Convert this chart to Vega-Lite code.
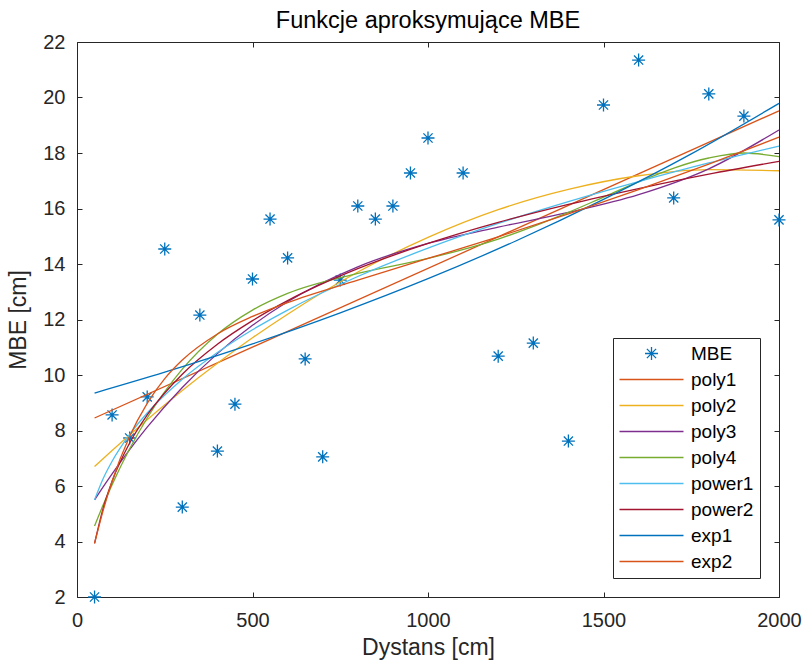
{
  "$schema": "https://vega.github.io/schema/vega-lite/v6.json",
  "width": 702,
  "height": 555,
  "autosize": {"type": "none"},
  "padding": {"left": 77, "top": 42, "right": 25, "bottom": 66},
  "background": "white",
  "config": {
    "font": "Liberation Sans",
    "view": {"stroke": null},
    "axis": {"grid": false, "domainColor": "#262626", "domainWidth": 1, "tickColor": "#262626", "tickWidth": 1, "labelColor": "#262626", "titleColor": "#262626", "labelFontSize": 20, "titleFontSize": 23, "titleFontWeight": "normal", "labelFont": "Liberation Sans", "titleFont": "Liberation Sans"},
    "legend": {"orient": "bottom-right", "offset": 19, "fillColor": "white", "strokeColor": "#262626", "padding": 6, "labelFontSize": 19, "labelColor": "#000000", "labelFont": "Liberation Sans", "symbolSize": 100, "symbolStrokeWidth": 1.3, "symbolOffset": 23, "labelOffset": 30, "rowPadding": 6}
  },
  "title": {"text": "Funkcje aproksymujące MBE", "fontSize": 23.5, "fontWeight": "normal", "color": "#000000", "offset": 0, "font": "Liberation Sans"},
  "datasets": {
    "pts": [
      {"series": "MBE", "x": 50, "y": 2.0},
      {"series": "MBE", "x": 100, "y": 8.56},
      {"series": "MBE", "x": 150, "y": 7.73},
      {"series": "MBE", "x": 200, "y": 9.21},
      {"series": "MBE", "x": 250, "y": 14.54},
      {"series": "MBE", "x": 300, "y": 5.24},
      {"series": "MBE", "x": 350, "y": 12.16},
      {"series": "MBE", "x": 400, "y": 7.26},
      {"series": "MBE", "x": 450, "y": 8.95},
      {"series": "MBE", "x": 500, "y": 13.46},
      {"series": "MBE", "x": 550, "y": 15.62},
      {"series": "MBE", "x": 600, "y": 14.22},
      {"series": "MBE", "x": 650, "y": 10.58},
      {"series": "MBE", "x": 700, "y": 7.05},
      {"series": "MBE", "x": 750, "y": 13.42},
      {"series": "MBE", "x": 800, "y": 16.09},
      {"series": "MBE", "x": 850, "y": 15.62},
      {"series": "MBE", "x": 900, "y": 16.09},
      {"series": "MBE", "x": 950, "y": 17.28},
      {"series": "MBE", "x": 1000, "y": 18.54},
      {"series": "MBE", "x": 1100, "y": 17.28},
      {"series": "MBE", "x": 1200, "y": 10.68},
      {"series": "MBE", "x": 1300, "y": 11.15},
      {"series": "MBE", "x": 1400, "y": 7.62},
      {"series": "MBE", "x": 1500, "y": 19.73},
      {"series": "MBE", "x": 1600, "y": 21.35},
      {"series": "MBE", "x": 1700, "y": 16.38},
      {"series": "MBE", "x": 1800, "y": 20.13},
      {"series": "MBE", "x": 1900, "y": 19.33},
      {"series": "MBE", "x": 2000, "y": 15.59}
    ],
    "curves": [
      {"series": "poly1", "x": 50, "y": 8.45},
      {"series": "poly1", "x": 2000, "y": 19.52},
      {"series": "poly2", "x": 50, "y": 6.70},
      {"series": "poly2", "x": 100, "y": 7.28},
      {"series": "poly2", "x": 200, "y": 8.39},
      {"series": "poly2", "x": 300, "y": 9.44},
      {"series": "poly2", "x": 400, "y": 10.42},
      {"series": "poly2", "x": 500, "y": 11.34},
      {"series": "poly2", "x": 600, "y": 12.19},
      {"series": "poly2", "x": 800, "y": 13.71},
      {"series": "poly2", "x": 1000, "y": 14.96},
      {"series": "poly2", "x": 1200, "y": 15.96},
      {"series": "poly2", "x": 1400, "y": 16.69},
      {"series": "poly2", "x": 1600, "y": 17.18},
      {"series": "poly2", "x": 1800, "y": 17.40},
      {"series": "poly2", "x": 2000, "y": 17.36},
      {"series": "poly3", "x": 50, "y": 5.50},
      {"series": "poly3", "x": 75, "y": 5.98},
      {"series": "poly3", "x": 100, "y": 6.44},
      {"series": "poly3", "x": 150, "y": 7.31},
      {"series": "poly3", "x": 200, "y": 8.12},
      {"series": "poly3", "x": 300, "y": 9.55},
      {"series": "poly3", "x": 400, "y": 10.77},
      {"series": "poly3", "x": 500, "y": 11.79},
      {"series": "poly3", "x": 600, "y": 12.64},
      {"series": "poly3", "x": 800, "y": 13.90},
      {"series": "poly3", "x": 1000, "y": 14.74},
      {"series": "poly3", "x": 1200, "y": 15.33},
      {"series": "poly3", "x": 1400, "y": 15.86},
      {"series": "poly3", "x": 1600, "y": 16.50},
      {"series": "poly3", "x": 1800, "y": 17.43},
      {"series": "poly3", "x": 2000, "y": 18.83},
      {"series": "poly4", "x": 50, "y": 4.56},
      {"series": "poly4", "x": 75, "y": 5.33},
      {"series": "poly4", "x": 100, "y": 6.05},
      {"series": "poly4", "x": 150, "y": 7.34},
      {"series": "poly4", "x": 200, "y": 8.45},
      {"series": "poly4", "x": 300, "y": 10.21},
      {"series": "poly4", "x": 400, "y": 11.47},
      {"series": "poly4", "x": 500, "y": 12.34},
      {"series": "poly4", "x": 600, "y": 12.94},
      {"series": "poly4", "x": 800, "y": 13.66},
      {"series": "poly4", "x": 1000, "y": 14.20},
      {"series": "poly4", "x": 1200, "y": 14.90},
      {"series": "poly4", "x": 1400, "y": 15.86},
      {"series": "poly4", "x": 1500, "y": 16.41},
      {"series": "poly4", "x": 1600, "y": 16.96},
      {"series": "poly4", "x": 1800, "y": 17.82},
      {"series": "poly4", "x": 1900, "y": 18.00},
      {"series": "poly4", "x": 2000, "y": 17.87},
      {"series": "power1", "x": 50, "y": 5.50},
      {"series": "power1", "x": 75, "y": 6.28},
      {"series": "power1", "x": 100, "y": 6.89},
      {"series": "power1", "x": 150, "y": 7.86},
      {"series": "power1", "x": 200, "y": 8.63},
      {"series": "power1", "x": 300, "y": 9.85},
      {"series": "power1", "x": 400, "y": 10.81},
      {"series": "power1", "x": 500, "y": 11.63},
      {"series": "power1", "x": 600, "y": 12.34},
      {"series": "power1", "x": 800, "y": 13.55},
      {"series": "power1", "x": 1000, "y": 14.57},
      {"series": "power1", "x": 1200, "y": 15.46},
      {"series": "power1", "x": 1400, "y": 16.25},
      {"series": "power1", "x": 1600, "y": 16.97},
      {"series": "power1", "x": 1800, "y": 17.64},
      {"series": "power1", "x": 2000, "y": 18.25},
      {"series": "power2", "x": 50, "y": 3.93},
      {"series": "power2", "x": 75, "y": 5.22},
      {"series": "power2", "x": 100, "y": 6.17},
      {"series": "power2", "x": 150, "y": 7.55},
      {"series": "power2", "x": 200, "y": 8.56},
      {"series": "power2", "x": 300, "y": 10.03},
      {"series": "power2", "x": 400, "y": 11.11},
      {"series": "power2", "x": 500, "y": 11.96},
      {"series": "power2", "x": 600, "y": 12.68},
      {"series": "power2", "x": 800, "y": 13.83},
      {"series": "power2", "x": 1000, "y": 14.74},
      {"series": "power2", "x": 1200, "y": 15.50},
      {"series": "power2", "x": 1400, "y": 16.15},
      {"series": "power2", "x": 1600, "y": 16.72},
      {"series": "power2", "x": 1800, "y": 17.24},
      {"series": "power2", "x": 2000, "y": 17.70},
      {"series": "exp1", "x": 50, "y": 9.35},
      {"series": "exp1", "x": 250, "y": 10.10},
      {"series": "exp1", "x": 500, "y": 11.12},
      {"series": "exp1", "x": 750, "y": 12.24},
      {"series": "exp1", "x": 1000, "y": 13.47},
      {"series": "exp1", "x": 1250, "y": 14.83},
      {"series": "exp1", "x": 1500, "y": 16.33},
      {"series": "exp1", "x": 1750, "y": 17.97},
      {"series": "exp1", "x": 2000, "y": 19.79},
      {"series": "exp2", "x": 50, "y": 3.93},
      {"series": "exp2", "x": 75, "y": 5.14},
      {"series": "exp2", "x": 100, "y": 6.17},
      {"series": "exp2", "x": 150, "y": 7.79},
      {"series": "exp2", "x": 200, "y": 8.98},
      {"series": "exp2", "x": 250, "y": 9.87},
      {"series": "exp2", "x": 300, "y": 10.54},
      {"series": "exp2", "x": 400, "y": 11.48},
      {"series": "exp2", "x": 500, "y": 12.11},
      {"series": "exp2", "x": 600, "y": 12.61},
      {"series": "exp2", "x": 800, "y": 13.42},
      {"series": "exp2", "x": 1000, "y": 14.20},
      {"series": "exp2", "x": 1200, "y": 14.98},
      {"series": "exp2", "x": 1400, "y": 15.81},
      {"series": "exp2", "x": 1600, "y": 16.68},
      {"series": "exp2", "x": 1800, "y": 17.60},
      {"series": "exp2", "x": 2000, "y": 18.57}
    ]
  },
  "layer": [
    {
      "data": {"name": "pts"},
      "mark": {"type": "point", "filled": false, "strokeWidth": 1.3, "size": 100, "opacity": 1},
      "encoding": {
        "x": {"field": "x", "type": "quantitative", "scale": {"domain": [0, 2000], "nice": false, "zero": false},
          "axis": {"orient": "bottom", "values": [0, 500, 1000, 1500, 2000], "format": "d", "tickSize": -5, "labelPadding": 18, "title": "Dystans [cm]", "titlePadding": 6, "labelFlush": false}},
        "y": {"field": "y", "type": "quantitative", "scale": {"domain": [2, 22], "nice": false, "zero": false},
          "axis": {"orient": "left", "values": [2, 4, 6, 8, 10, 12, 14, 16, 18, 20, 22], "tickSize": -5, "labelPadding": 17, "title": "MBE [cm]", "titlePadding": 12, "labelFlush": false}},
        "color": {"field": "series", "type": "nominal", "title": null,
          "scale": {"domain": ["MBE", "poly1", "poly2", "poly3", "poly4", "power1", "power2", "exp1", "exp2"],
                    "range": ["#0072BD", "#D95319", "#EDB120", "#7E2F8E", "#77AC30", "#4DBEEE", "#A2142F", "#0072BD", "#D95319"]}},
        "shape": {"field": "series", "type": "nominal", "title": null,
          "scale": {"domain": ["MBE", "poly1", "poly2", "poly3", "poly4", "power1", "power2", "exp1", "exp2"],
                    "range": ["M0,-1.3L0,1.3M-1.3,0L1.3,0M-0.92,-0.92L0.92,0.92M-0.92,0.92L0.92,-0.92", "M-6.4,0L6.4,0", "M-6.4,0L6.4,0", "M-6.4,0L6.4,0", "M-6.4,0L6.4,0", "M-6.4,0L6.4,0", "M-6.4,0L6.4,0", "M-6.4,0L6.4,0", "M-6.4,0L6.4,0"]}}
      }
    },
    {
      "data": {"name": "curves"},
      "mark": {"type": "line", "interpolate": "monotone", "strokeWidth": 1.3},
      "encoding": {
        "x": {"field": "x", "type": "quantitative",
          "axis": {"orient": "top", "values": [0, 500, 1000, 1500, 2000], "tickSize": -5, "labels": false, "title": null}},
        "y": {"field": "y", "type": "quantitative",
          "axis": {"orient": "right", "values": [2, 4, 6, 8, 10, 12, 14, 16, 18, 20, 22], "tickSize": -5, "labels": false, "title": null}},
        "color": {"field": "series", "type": "nominal", "title": null}
      }
    }
  ],
  "resolve": {"axis": {"x": "independent", "y": "independent"}}
}
